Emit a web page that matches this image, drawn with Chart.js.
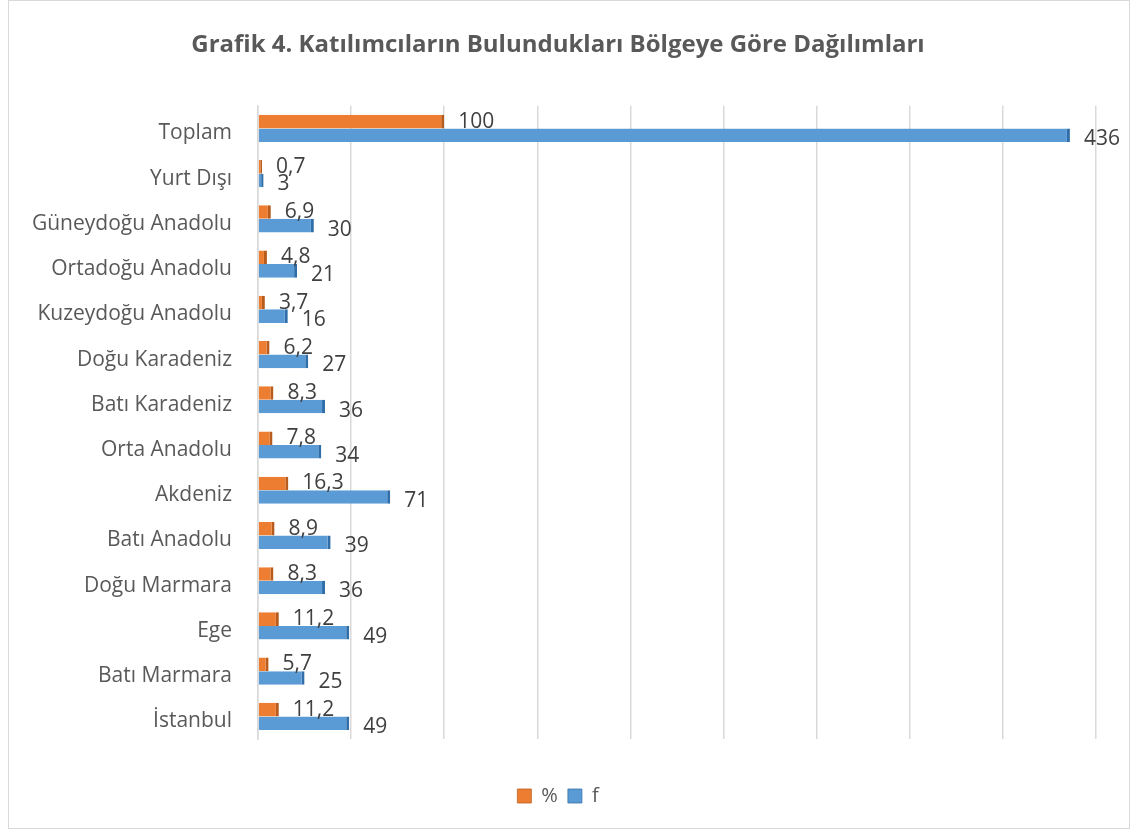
<!DOCTYPE html>
<html lang="tr">
<head>
<meta charset="utf-8">
<title>Grafik 4</title>
<script src="https://cdn.jsdelivr.net/npm/chart.js@4.4.1/dist/chart.umd.min.js"></script>
<style>
  html, body { margin: 0; padding: 0; background: #fff; }
  #wrap { position: relative; width: 1138px; height: 834px; box-sizing: border-box; }
  #frame { position: absolute; left: 8px; top: 0; width: 1122px; height: 829px; border: 1px solid #d9d9d9; box-sizing: border-box; pointer-events: none; }
</style>
</head>
<body>
<div id="wrap">
  <canvas id="chart" width="1138" height="834"></canvas>
  <div id="frame"></div>
</div>
<script>
// Data (top to bottom, as drawn)
const regions = [
  "Toplam", "Yurt Dışı", "Güneydoğu Anadolu", "Ortadoğu Anadolu", "Kuzeydoğu Anadolu",
  "Doğu Karadeniz", "Batı Karadeniz", "Orta Anadolu", "Akdeniz", "Batı Anadolu",
  "Doğu Marmara", "Ege", "Batı Marmara", "İstanbul"
];
const percent = [100, 0.7, 6.9, 4.8, 3.7, 6.2, 8.3, 7.8, 16.3, 8.9, 8.3, 11.2, 5.7, 11.2];
const freq = [436, 3, 30, 21, 16, 27, 36, 34, 71, 39, 36, 49, 25, 49];
const xMax = 450;
const xStep = 50;

const FONT = "'Open Sans', 'Noto Sans', sans-serif";

// Value labels next to the bars (comma decimals)
const valueLabels = {
  id: "valueLabels",
  afterDatasetsDraw(chart) {
    const ctx = chart.ctx;
    ctx.save();
    ctx.font = "21px " + FONT;
    ctx.fillStyle = "#404040";
    ctx.textBaseline = "middle";
    chart.data.datasets.forEach((ds, di) => {
      const meta = chart.getDatasetMeta(di);
      meta.data.forEach((bar, i) => {
        const txt = String(ds.data[i]).replace(".", ",");
        const dy = di === 0 ? 0 : 4;
        ctx.fillText(txt, bar.x + 14, bar.y + dy);
      });
    });
    ctx.restore();
  }
};

new Chart(document.getElementById("chart"), {
  type: "bar",
  data: {
    labels: regions,
    datasets: [
      {
        label: "%",
        data: percent,
        backgroundColor: "#ED7D31",
        borderColor: "#B85C1E",
        borderWidth: { right: 3, top: 0, bottom: 0, left: 0 },
        borderSkipped: false,
        minBarLength: 4
      },
      {
        label: "f",
        data: freq,
        backgroundColor: "#5B9BD5",
        borderColor: "#2F6EA8",
        borderWidth: { right: 3, top: 0, bottom: 0, left: 0 },
        borderSkipped: false,
        minBarLength: 4
      }
    ]
  },
  options: {
    indexAxis: "y",
    responsive: false,
    animation: false,
    devicePixelRatio: 1,
    categoryPercentage: 0.6,
    barPercentage: 1.0,
    layout: { padding: { left: 20, right: 42, bottom: 18, top: 0 } },
    plugins: {
      title: {
        display: true,
        text: "Grafik 4. Katılımcıların Bulundukları Bölgeye Göre Dağılımları",
        color: "#595959",
        font: { family: FONT, size: 24, weight: "bold" },
        padding: { top: 31, bottom: 46 }
      },
      legend: {
        position: "bottom",
        labels: {
          color: "#595959",
          font: { family: FONT, size: 20 },
          boxWidth: 14,
          boxHeight: 14,
          padding: 10
        }
      },
      tooltip: { enabled: false }
    },
    scales: {
      x: {
        min: 0,
        max: xMax,
        ticks: { display: false, stepSize: xStep },
        grid: { color: "#d9d9d9", lineWidth: 1.5, drawTicks: false },
        border: { display: false },
        afterFit(scale) { scale.height = 37; }
      },
      y: {
        ticks: {
          color: "#595959",
          font: { family: FONT, size: 21 },
          padding: 26,
          labelOffset: 5
        },
        grid: { display: false, drawTicks: false },
        border: { display: true, color: "#d9d9d9", width: 1.5 },
        afterFit(scale) { scale.width = 238; }
      }
    }
  },
  plugins: [valueLabels]
});
</script>
</body>
</html>
